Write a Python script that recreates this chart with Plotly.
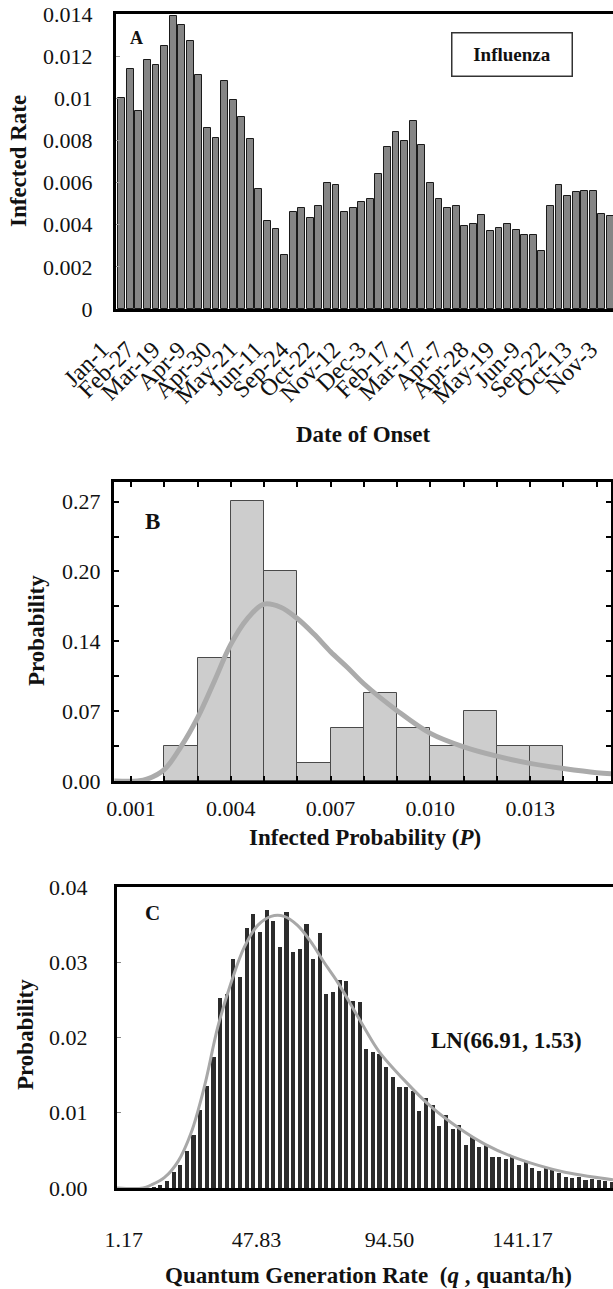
import numpy as np
import plotly.graph_objects as go

# ---------------- Panel A data ----------------
week_index = list(range(59))
date_tick_labels = ["Jan-1", "Feb-27", "Mar-19", "Apr-9", "Apr-30", "May-21", "Jun-11",
                    "Sep-24", "Oct-22", "Nov-12", "Dec-3", "Feb-17", "Mar-17", "Apr-7",
                    "Apr-28", "May-19", "Jun-9", "Sep-22", "Oct-13", "Nov-3"]
infected_rate = [0.0100, 0.0114, 0.0094, 0.0118, 0.0116, 0.0125, 0.0139, 0.0135, 0.0127, 0.0111,
                 0.0086, 0.0081, 0.0108, 0.0099, 0.0091, 0.00805, 0.0057, 0.0042, 0.0038, 0.00255,
                 0.0046, 0.0048, 0.0043, 0.0049, 0.00597, 0.0059, 0.0046, 0.0048, 0.0051, 0.0052,
                 0.0064, 0.0077, 0.0084, 0.00798, 0.0089, 0.0078, 0.00597, 0.0052, 0.0048, 0.0049,
                 0.00395, 0.00403, 0.00446, 0.0037, 0.00384, 0.00403, 0.00377, 0.0035, 0.0035, 0.00275,
                 0.00487, 0.0059, 0.00535, 0.00553, 0.0056, 0.0056, 0.0045, 0.0044, 0.0044]
rate_ticks = [0, 0.002, 0.004, 0.006, 0.008, 0.01, 0.012, 0.014]
rate_tick_text = ["0", "0.002", "0.004", "0.006", "0.008", "0.01", "0.012", "0.014"]

# ---------------- Panel B data ----------------
p_bin_left = [0.002, 0.003, 0.004, 0.005, 0.006, 0.007, 0.008, 0.009, 0.010, 0.011, 0.012, 0.013]
p_bin_width = 0.001
p_prob = [0.034, 0.119, 0.271, 0.203, 0.017, 0.051, 0.085, 0.051, 0.034, 0.068, 0.034, 0.034]
p_fit_x = [0.0005, 0.0012, 0.0015, 0.002, 0.0025, 0.003, 0.0035, 0.004, 0.0045, 0.005, 0.0055,
           0.006, 0.0065, 0.007, 0.0075, 0.008, 0.009, 0.010, 0.011, 0.012, 0.013, 0.014, 0.015, 0.0155]
p_fit_y = [0.0, 0.0, 0.002, 0.011, 0.033, 0.061, 0.096, 0.132, 0.157, 0.171, 0.168,
           0.157, 0.142, 0.125, 0.110, 0.094, 0.068, 0.046, 0.033, 0.024, 0.017, 0.012, 0.008, 0.007]
p_ticks = [0.001, 0.004, 0.007, 0.010, 0.013]
p_tick_text = ["0.001", "0.004", "0.007", "0.010", "0.013"]
pb_ticks = [0, 0.0675, 0.135, 0.2025, 0.27]
pb_tick_text = ["0.00", "0.07", "0.14", "0.20", "0.27"]

# ---------------- Panel C data ----------------
q_bin_start = 1.17
q_bin_width = 140.0 / 60.0
q_prob = [0, 0, 0, 0, 0.0001, 0.0004, 0.0009, 0.0021, 0.0030, 0.0049,
          0.0071, 0.0104, 0.0135, 0.0174, 0.0253, 0.0258, 0.0304, 0.0280, 0.0345, 0.0364,
          0.0340, 0.0369, 0.0355, 0.0320, 0.0367, 0.0314, 0.0317, 0.0351, 0.0304, 0.0339,
          0.0258, 0.0261, 0.0276, 0.0275, 0.0249, 0.0247, 0.0185, 0.0181, 0.0178, 0.0161,
          0.0148, 0.0134, 0.0134, 0.0129, 0.0102, 0.0119, 0.0110, 0.0083, 0.0097, 0.0079,
          0.0084, 0.0057, 0.0068, 0.0055, 0.0058, 0.0041, 0.0041, 0.0038, 0.0043, 0.0031,
          0.0036, 0.0026, 0.0023, 0.0028, 0.0025, 0.0020, 0.0015, 0.0013, 0.0014, 0.0011,
          0.0012, 0.0010, 0.0009, 0.0008]
q_fit_x = [-1.2, 8.0, 10.8, 15.5, 20.2, 24.8, 29.5, 34.2, 38.8, 43.5, 48.2, 52.9, 57.5, 62.2,
           66.9, 71.5, 76.2, 80.9, 85.5, 90.7, 100.0, 109.4, 118.7, 128.1, 137.4, 146.8,
           156.1, 165.4, 173.0]
q_fit_y = [0.0, 0.0, 0.0004, 0.0014, 0.0035, 0.0073, 0.0135, 0.0214, 0.0272, 0.0320, 0.0349,
           0.0361, 0.0361, 0.0349, 0.0327, 0.0300, 0.0274, 0.0244, 0.0214, 0.0182, 0.0142,
           0.0107, 0.0080, 0.0058, 0.0042, 0.0030, 0.0021, 0.0015, 0.0011]
q_ticks = [1.17, 47.83, 94.50, 141.17]
q_tick_text = ["1.17", "47.83", "94.50", "141.17"]
qy_ticks = [0, 0.01, 0.02, 0.03, 0.04]
qy_tick_text = ["0.00", "0.01", "0.02", "0.03", "0.04"]

# ---------------- Figure ----------------
W, H = 613, 1289
FONT = "Liberation Serif"
TICKFONT = dict(family=FONT, size=22, color="#111")


def px(x):
    return x / W


def py(y):
    return 1 - y / H


fig = go.Figure()

fig.add_trace(go.Bar(x=week_index, y=infected_rate, width=0.8,
                     marker=dict(color="#858585", line=dict(color="#1a1a1a", width=1)),
                     xaxis="x", yaxis="y", showlegend=False))

p_centers = [b + p_bin_width / 2 for b in p_bin_left]
fig.add_trace(go.Bar(x=p_centers, y=p_prob, width=p_bin_width,
                     marker=dict(color="#cdcdcd", line=dict(color="#4a4a4a", width=1)),
                     xaxis="x2", yaxis="y2", showlegend=False))
fig.add_trace(go.Scatter(x=p_fit_x, y=p_fit_y, mode="lines", line=dict(color="#ababab", width=5, shape="spline"),
                         xaxis="x2", yaxis="y2", showlegend=False))

q_centers = [q_bin_start + (k + 0.5) * q_bin_width for k in range(len(q_prob))]
fig.add_trace(go.Bar(x=q_centers, y=q_prob, width=0.62 * q_bin_width,
                     marker=dict(color="#2c2c2c", line=dict(width=0)),
                     xaxis="x3", yaxis="y3", showlegend=False))
fig.add_trace(go.Scatter(x=q_fit_x, y=q_fit_y, mode="lines", line=dict(color="#a8a8a8", width=3, shape="spline"),
                         xaxis="x3", yaxis="y3", showlegend=False))

frame = dict(showline=True, linecolor="black", linewidth=3, mirror=True, showgrid=False,
             zeroline=False, automargin=False)

fig.update_layout(
    width=W, height=H, margin=dict(l=0, r=0, t=0, b=0, autoexpand=False),
    paper_bgcolor="white", plot_bgcolor="white", bargap=0,
    font=dict(family=FONT, color="#111"),
    xaxis=dict(domain=[px(116), 1.0], anchor="y", range=[-0.66, 57.3],
               tickvals=week_index[::3], ticktext=date_tick_labels, tickangle=-45,
               tickfont=dict(family=FONT, size=24, color="#111"), ticks="",
               ticklabelstandoff=14, ticklabelshift=-20, **frame),
    yaxis=dict(domain=[py(309), py(14)], anchor="x", range=[0, 0.014],
               tickvals=rate_ticks, ticktext=rate_tick_text, tickfont=TICKFONT,
               ticks="inside", ticklen=4, tickcolor="#999", tickwidth=1, ticklabelstandoff=16, **frame),
    xaxis2=dict(domain=[px(114), px(611)], anchor="y2", range=[0.00049, 0.01543],
                tickvals=p_ticks, ticktext=p_tick_text, tickfont=TICKFONT,
                ticks="inside", ticklen=5, tickwidth=2, tickcolor="black", ticklabelstandoff=6,
                minor=dict(dtick=0.001, tick0=0.001, ticks="inside", ticklen=5, tickwidth=2, tickcolor="black"),
                **{**frame, "mirror": "allticks"}),
    yaxis2=dict(domain=[py(781), py(482)], anchor="x2", range=[0, 0.289],
                tickvals=pb_ticks, ticktext=pb_tick_text, tickfont=TICKFONT,
                ticks="inside", ticklen=5, tickwidth=2, tickcolor="black", ticklabelstandoff=6,
                minor=dict(dtick=0.03375, tick0=0, ticks="inside", ticklen=5, tickwidth=2, tickcolor="black"),
                **{**frame, "mirror": "allticks"}),
    xaxis3=dict(domain=[px(117), 1.0], anchor="y3", range=[-1.21, 173.0],
                tickvals=q_ticks, ticktext=q_tick_text, tickfont=TICKFONT,
                ticks="", ticklabelstandoff=30, **frame),
    yaxis3=dict(domain=[py(1188), py(887)], anchor="x3", range=[0, 0.04],
                tickvals=qy_ticks, ticktext=qy_tick_text, tickfont=TICKFONT,
                ticks="inside", ticklen=4, tickcolor="#888", tickwidth=1, ticklabelstandoff=22, **frame),
)


def note(text, x, y, size=23, angle=0, **kw):
    fig.add_annotation(text=text, x=px(x), y=py(y), xref="paper", yref="paper",
                       showarrow=False, textangle=angle, xanchor="center", yanchor="middle",
                       font=dict(family=FONT, size=size, color="#111"), **kw)


note("<b>A</b>", 136, 38, size=18)
note("<b>Influenza</b>", 511.5, 54.5, size=19, width=119, height=42,
     bordercolor="#333", borderwidth=1.5, borderpad=0, bgcolor="white")
note("<b>Infected Rate</b>", 18.5, 161.5, angle=-90)
note("<b>Date of Onset</b>", 363, 434)

note("<b>B</b>", 152, 521, size=23)
note("<b>Probability</b>", 37, 631, angle=-90)
note("<b>Infected Probability (<i>P</i>)</b>", 365, 837)

note("<b>C</b>", 152, 913, size=21)
note("<b>Probability</b>", 25, 1035, angle=-90)
note("<b>Quantum Generation Rate\u00a0\u00a0(<i>q</i> , quanta/h)</b>", 368.5, 1275)
note("<b>LN(66.91, 1.53)</b>", 506.5, 1040)

fig.write_html("out.html", config={"displayModeBar": False},
               post_script="document.body.style.margin='0';document.body.style.padding='0';"
                           "document.body.style.overflow='hidden';")
